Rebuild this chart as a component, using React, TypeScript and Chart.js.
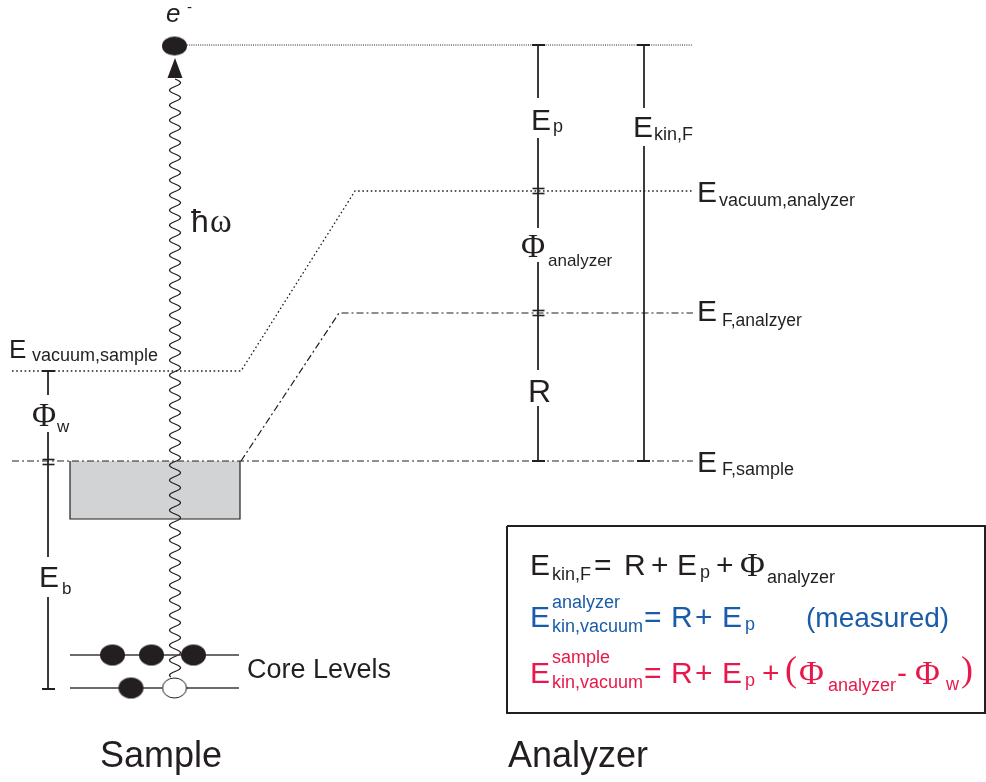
import React, { useEffect, useRef } from 'react';
import { Chart, registerables } from 'chart.js';

Chart.register(...registerables);

// ---- palette ----
const INK = '#231f20';
const BLUE = '#1a5ca8';
const RED = '#e8194a';
const GRAY = '#d1d3d4';
const SANS = '"Liberation Sans", Arial, sans-serif';
const SERIF = '"Liberation Serif", "Times New Roman", serif';

// ---- energy levels (diagram units, y grows downward) ----
const levelNames = ['photoelectron', 'E vacuum,analyzer', 'E F,analyzer', 'E vacuum,sample', 'E F,sample', 'core level 1', 'core level 2'];
const levelY = [45, 191, 313, 371, 461, 655, 688];

// paths of the level lines
const photoLineX = [187, 693];
const vacuumPathX = [12, 241, 355, 693];
const vacuumPathY = [371, 371, 191, 191];
const fermiAnalyzerX = [241, 339, 693];
const fermiAnalyzerY = [461, 313, 313];
const fermiSampleX = [12, 693];
const coreLineX = [70, 239];

// valence band box
const bandX = [70, 240];
const bandY = [461, 519];

// electrons
const electronX = [112.5, 151.5, 193.5, 131];
const electronY = [655, 655, 655, 688];
const holeX = [174.5];
const holeY = [688];
const photoElectronX = [174.5];
const photoElectronY = [46];
const arrowX = [175];
const arrowY = [68];

// photon (wavy line)
const photonX = 175;
const photonY = [79, 677];

// measuring bars: x and segments [top,bottom]
const barEpX = 538;
const barEpSegs = [[45, 98], [138, 228], [262, 370], [406, 461]];
const barKinX = 644;
const barKinSegs = [[45, 108], [146, 461]];
const barSampleX = 48;
const barSampleSegs = [[371, 395], [432, 557], [597, 689]];
const capPoints = [
  { x: 538.5, y: 45 }, { x: 538.5, y: 461 }, { x: 643.5, y: 45 }, { x: 643.5, y: 461 },
  { x: 48.5, y: 371 }, { x: 48.5, y: 689 },
];
const doubleTickPoints = [
  { x: 538.5, y: 188.5 }, { x: 538.5, y: 193.5 }, { x: 538.5, y: 310.5 }, { x: 538.5, y: 315.5 },
  { x: 48.5, y: 459.5 }, { x: 48.5, y: 464.5 },
];

// formula box
const boxX = [507, 985];
const boxY = [526, 713];

type Lbl = { t: string; x: number; y: number; s: number; f?: 'sans' | 'serif'; c?: string; i?: boolean };

const labels: Lbl[] = [
  { t: 'e', x: 166, y: 22, s: 26, i: true },
  { t: '-', x: 187, y: 12, s: 15 },
  { t: 'ħ', x: 191, y: 232, s: 32 },
  { t: 'ω', x: 210, y: 232, s: 33, f: 'serif' },
  { t: 'E', x: 9, y: 358, s: 26 },
  { t: 'vacuum,sample', x: 32, y: 361, s: 18 },
  { t: 'Φ', x: 32, y: 426, s: 33, f: 'serif' },
  { t: 'w', x: 57, y: 432, s: 17 },
  { t: 'E', x: 39, y: 587, s: 30 },
  { t: 'b', x: 62, y: 594, s: 17 },
  { t: 'Core Levels', x: 247, y: 678, s: 27 },
  { t: 'Sample', x: 100, y: 767, s: 36 },
  { t: 'Analyzer', x: 508, y: 767, s: 36 },
  { t: 'E', x: 531, y: 130, s: 30 },
  { t: 'p', x: 553, y: 132, s: 18 },
  { t: 'E', x: 633, y: 137, s: 30 },
  { t: 'kin,F', x: 654, y: 140, s: 18 },
  { t: 'E', x: 697, y: 202, s: 30 },
  { t: 'vacuum,analyzer', x: 719, y: 206, s: 18 },
  { t: 'Φ', x: 521, y: 257, s: 33, f: 'serif' },
  { t: 'analyzer', x: 548, y: 266, s: 17 },
  { t: 'E', x: 697, y: 321, s: 30 },
  { t: 'F,analzyer', x: 722, y: 326, s: 17.5 },
  { t: 'R', x: 528, y: 402, s: 32 },
  { t: 'E', x: 697, y: 472, s: 30 },
  { t: 'F,sample', x: 722, y: 475, s: 18 },
  // formula line 1
  { t: 'E', x: 530, y: 575, s: 30 },
  { t: 'kin,F', x: 552, y: 580, s: 18 },
  { t: '=', x: 594, y: 575, s: 30 },
  { t: 'R', x: 624, y: 575, s: 30 },
  { t: '+', x: 651, y: 575, s: 30 },
  { t: 'E', x: 677, y: 575, s: 30 },
  { t: 'p', x: 700, y: 578, s: 18 },
  { t: '+', x: 716, y: 575, s: 30 },
  { t: 'Φ', x: 740, y: 576, s: 34, f: 'serif' },
  { t: 'analyzer', x: 767, y: 583, s: 18 },
  // formula line 2
  { t: 'E', x: 530, y: 627, s: 30, c: BLUE },
  { t: 'analyzer', x: 552, y: 608, s: 18, c: BLUE },
  { t: 'kin,vacuum', x: 552, y: 632, s: 18, c: BLUE },
  { t: '=', x: 644, y: 627, s: 30, c: BLUE },
  { t: 'R', x: 671, y: 627, s: 30, c: BLUE },
  { t: '+', x: 695, y: 627, s: 30, c: BLUE },
  { t: 'E', x: 722, y: 627, s: 30, c: BLUE },
  { t: 'p', x: 745, y: 630, s: 18, c: BLUE },
  { t: '(measured)', x: 806, y: 627, s: 28, c: BLUE },
  // formula line 3
  { t: 'E', x: 530, y: 683, s: 30, c: RED },
  { t: 'sample', x: 552, y: 663, s: 18, c: RED },
  { t: 'kin,vacuum', x: 552, y: 688, s: 18, c: RED },
  { t: '=', x: 644, y: 683, s: 30, c: RED },
  { t: 'R', x: 671, y: 683, s: 30, c: RED },
  { t: '+', x: 695, y: 683, s: 30, c: RED },
  { t: 'E', x: 722, y: 683, s: 30, c: RED },
  { t: 'p', x: 745, y: 686, s: 18, c: RED },
  { t: '+', x: 762, y: 683, s: 30, c: RED },
  { t: '(', x: 785, y: 681, s: 36, f: 'serif', c: RED },
  { t: 'Φ', x: 799, y: 684, s: 34, f: 'serif', c: RED },
  { t: 'analyzer', x: 828, y: 691, s: 18, c: RED },
  { t: '-', x: 897, y: 683, s: 30, c: RED },
  { t: 'Φ', x: 915, y: 684, s: 34, f: 'serif', c: RED },
  { t: 'w', x: 946, y: 690, s: 18, c: RED },
  { t: ')', x: 961, y: 681, s: 36, f: 'serif', c: RED },
];

function pts(xs: number[], ys: number[]) {
  return xs.map((x, i) => ({ x, y: ys[i] }));
}

function lineDs(data: { x: number; y: number }[], extra: any = {}) {
  return {
    data,
    showLine: true,
    pointRadius: 0,
    borderColor: INK,
    borderWidth: 1,
    fill: false,
    tension: 0,
    clip: false as any,
    borderCapStyle: 'butt',
    ...extra,
  };
}

function ellipseImage(rx: number, ry: number, filled: boolean) {
  const c = document.createElement('canvas');
  c.width = Math.ceil(rx * 2 + 2);
  c.height = Math.ceil(ry * 2 + 2);
  const g = c.getContext('2d')!;
  g.beginPath();
  g.ellipse(c.width / 2, c.height / 2, rx, ry, 0, 0, Math.PI * 2);
  if (filled) {
    g.fillStyle = INK;
    g.fill();
  } else {
    g.fillStyle = '#ffffff';
    g.fill();
    g.lineWidth = 1;
    g.strokeStyle = INK;
    g.stroke();
  }
  return c;
}

function arrowImage() {
  const c = document.createElement('canvas');
  c.width = 16;
  c.height = 20;
  const g = c.getContext('2d')!;
  g.beginPath();
  g.moveTo(8, 0);
  g.lineTo(15.5, 20);
  g.lineTo(0.5, 20);
  g.closePath();
  g.fillStyle = INK;
  g.fill();
  return c;
}

export default function App() {
  const ref = useRef<HTMLCanvasElement>(null);

  useEffect(() => {
    document.body.style.margin = '0';
    const canvas = ref.current!;
    const DOT = [1.6, 2.6];
    const DASHDOT = [7, 3, 2, 3];

    const datasets: any[] = [];
    // photoelectrons & core electrons (on top)
    datasets.push({ data: pts(photoElectronX, photoElectronY), pointStyle: ellipseImage(12.5, 9.5, true), pointRadius: 10, showLine: false, clip: false });
    datasets.push({ data: pts(arrowX, arrowY), pointStyle: arrowImage(), pointRadius: 10, showLine: false, clip: false });
    datasets.push({ data: pts(electronX, electronY), pointStyle: ellipseImage(12.5, 10.5, true), pointRadius: 10, showLine: false, clip: false });
    datasets.push({ data: pts(holeX, holeY), pointStyle: ellipseImage(12, 10, false), pointRadius: 10, showLine: false, clip: false });
    // caps and ticks
    datasets.push({ data: capPoints, pointStyle: 'line', pointRadius: 6.5, pointBorderWidth: 2, pointBorderColor: INK, showLine: false, clip: false });
    datasets.push({ data: doubleTickPoints, pointStyle: 'line', pointRadius: 6, pointBorderWidth: 1.6, pointBorderColor: INK, showLine: false, clip: false });
    // bars
    barEpSegs.forEach((s) => datasets.push(lineDs(pts([barEpX, barEpX], s))));
    barKinSegs.forEach((s) => datasets.push(lineDs(pts([barKinX, barKinX], s))));
    barSampleSegs.forEach((s) => datasets.push(lineDs(pts([barSampleX, barSampleX], s))));
    // level lines
    datasets.push(lineDs(pts(photoLineX, [levelY[0], levelY[0]]), { borderDash: [1, 1.2], borderWidth: 1 }));
    datasets.push(lineDs(pts(vacuumPathX, vacuumPathY), { borderDash: DOT, borderWidth: 1.3 }));
    datasets.push(lineDs(pts(fermiAnalyzerX, fermiAnalyzerY), { borderDash: DASHDOT, borderWidth: 1.2 }));
    datasets.push(lineDs(pts(fermiSampleX, [levelY[4], levelY[4]]), { borderDash: DASHDOT, borderWidth: 1.2 }));
    datasets.push(lineDs(pts(coreLineX, [levelY[5], levelY[5]]), { borderWidth: 1.4, borderColor: '#3a3a3c' }));
    datasets.push(lineDs(pts(coreLineX, [levelY[6], levelY[6]]), { borderWidth: 1.4, borderColor: '#3a3a3c' }));
    // band box border (left, bottom, right)
    datasets.push(lineDs(pts([bandX[0], bandX[0], bandX[1], bandX[1]], [bandY[0], bandY[1], bandY[1], bandY[0]]), { borderWidth: 1.2 }));
    // formula box
    datasets.push(lineDs(pts([boxX[0], boxX[1], boxX[1], boxX[0], boxX[0]], [boxY[0], boxY[0], boxY[1], boxY[1], boxY[0]]), { borderWidth: 2, borderJoinStyle: 'miter' }));
    // band fill (drawn first)
    datasets.push(lineDs(pts(bandX, [bandY[0], bandY[0]]), { borderColor: 'transparent', borderWidth: 0, fill: { value: bandY[1] }, backgroundColor: GRAY }));
    const fillIndex = datasets.length - 1;

    const wavePlugin = {
      id: 'photonWave',
      afterDatasetDraw(chart: any, args: any) {
        if (args.index !== fillIndex) return;
        const { ctx, scales } = chart;
        const x0 = scales.x.getPixelForValue(photonX);
        const y0 = scales.y.getPixelForValue(photonY[0]);
        const y1 = scales.y.getPixelForValue(photonY[1]);
        const period = 15;
        const amp = 5.5;
        ctx.save();
        ctx.beginPath();
        for (let y = y0; y <= y1; y += 0.5) {
          const x = x0 + amp * Math.sin(((y - y0) / period) * Math.PI * 2);
          if (y === y0) ctx.moveTo(x, y);
          else ctx.lineTo(x, y);
        }
        ctx.strokeStyle = INK;
        ctx.lineWidth = 1.2;
        ctx.stroke();
        ctx.restore();
      },
    };

    const textPlugin = {
      id: 'diagramText',
      afterDraw(chart: any) {
        const { ctx, scales } = chart;
        ctx.save();
        ctx.textBaseline = 'alphabetic';
        ctx.textAlign = 'left';
        labels.forEach((l) => {
          const fam = l.f === 'serif' ? SERIF : SANS;
          ctx.font = `${l.i ? 'italic ' : ''}${l.s}px ${fam}`;
          ctx.fillStyle = l.c || INK;
          ctx.fillText(l.t, scales.x.getPixelForValue(l.x), scales.y.getPixelForValue(l.y));
        });
        ctx.restore();
      },
    };

    const chart = new Chart(canvas, {
      type: 'scatter',
      data: { datasets },
      options: {
        responsive: false,
        animation: false,
        events: [],
        layout: { padding: 0, autoPadding: false },
        scales: {
          x: { type: 'linear', min: 0, max: 986, display: false },
          y: { type: 'linear', min: 0, max: 782, reverse: true, display: false },
        },
        plugins: { legend: { display: false }, tooltip: { enabled: false } },
      } as any,
      plugins: [wavePlugin, textPlugin],
    });

    let alive = true;
    if ((document as any).fonts && (document as any).fonts.ready) {
      (document as any).fonts.ready.then(() => {
        if (alive) chart.draw();
      });
    }
    return () => {
      alive = false;
      chart.destroy();
    };
  }, []);

  return (
    <div style={{ position: 'fixed', left: 0, top: 0, width: 986, height: 782, background: '#ffffff' }}>
      <canvas ref={ref} width={986} height={782} style={{ width: 986, height: 782, display: 'block' }} />
    </div>
  );
}
